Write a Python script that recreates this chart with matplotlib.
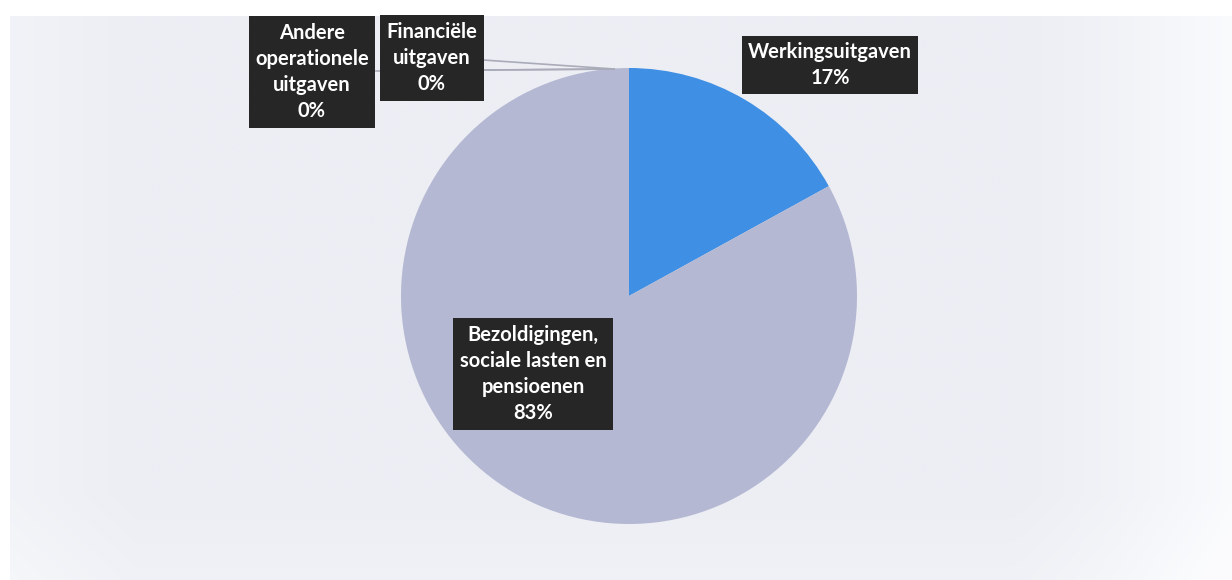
import numpy as np
import matplotlib
matplotlib.use("Agg")
import matplotlib.pyplot as plt

# Expenditure breakdown (percent), clockwise from the top
categories = ["Werkingsuitgaven",
              "Bezoldigingen,\nsociale lasten en\npensioenen",
              "Andere\noperationele\nuitgaven",
              "Financiële\nuitgaven"]
values = [17, 83, 0, 0]
colors = ["#3f8fe4", "#b5b8d2", "#9fa3c4", "#8a8fb8"]

W, H = 1232, 580
fig = plt.figure(figsize=(W / 100, H / 100), dpi=100)
fig.patch.set_facecolor("white")
ax = fig.add_axes([0, 0, 1, 1])

# soft grey backdrop, brighter towards the right and bottom edges
xx = np.linspace(0, 1, 400)
yy = np.linspace(0, 1, 200)
X, Y = np.meshgrid(xx, yy)
lift = 0.9 * np.clip((X - 0.82) / 0.18, 0, 1) ** 1.3 + 0.35 * np.clip((0.1 - X) / 0.1, 0, 1)
lift = np.clip(lift + 0.25 * np.clip((Y - 0.85) / 0.15, 0, 1), 0, 1)
base = np.array([236, 238, 244]) / 255.0
rgb = base[None, None, :] * (1 - lift[..., None]) + lift[..., None] * np.array([0.985, 0.988, 0.995])
ax.imshow(rgb, extent=[10, W, 0, H - 16], aspect="auto", zorder=0, interpolation="bilinear")

cx, cy, r = 629, 284, 228
wedges, _ = ax.pie(values, colors=colors, startangle=90, counterclock=False,
                   center=(cx, cy), radius=r, frame=True,
                   wedgeprops=dict(linewidth=0))
for w in wedges:
    w.set_zorder(2)
ax.set_xlim(0, W)
ax.set_ylim(0, H)
ax.set_aspect("equal")
ax.axis("off")

total = sum(values)
pct = [f"{round(v / total * 100):d}%" for v in values]

# label box centres (x, y) in pixel space, y measured upward
label_pos = [(830, 515), (533, 206), (312, 508), (432, 522)]
top = (cx, cy + r)

# leader lines for the two empty slices
line_kw = dict(color="#a9abb8", lw=1.2, zorder=3)
ax.plot([376, top[0] - 15], [509, top[1] - 1], **line_kw)
ax.plot([483, top[0] - 15], [520, top[1] - 1], **line_kw)
ax.plot([483, top[0] - 15], [510, top[1] - 1], **line_kw)

for (x, y), cat, p in zip(label_pos, categories, pct):
    ax.text(x, y, f"{cat}\n{p}", ha="center", va="center", color="white",
            fontsize=14.5, fontweight="bold", family="Lato", linespacing=1.38,
            zorder=5,
            bbox=dict(boxstyle="square,pad=0.32", fc="#262626", ec="none"))

fig.savefig("out.png", dpi=100, facecolor=fig.get_facecolor())
